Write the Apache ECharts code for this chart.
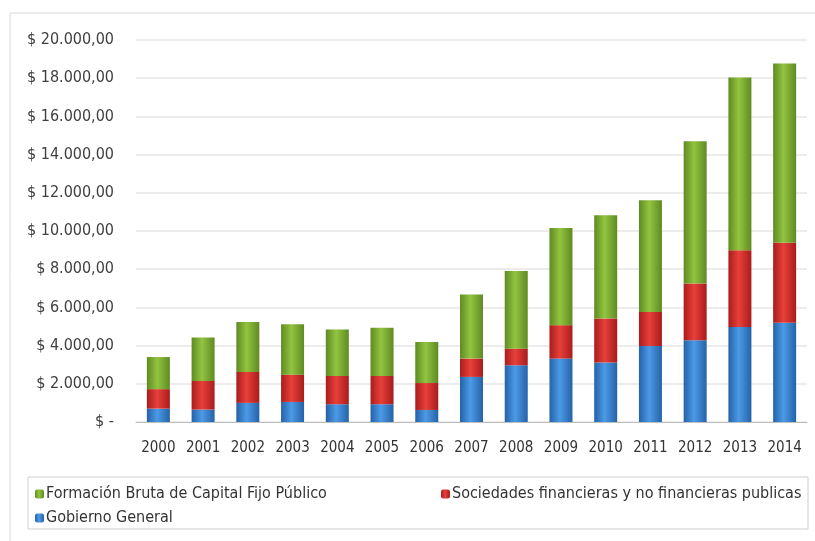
<!DOCTYPE html>
<html>
<head>
<meta charset="utf-8">
<script src="https://cdn.jsdelivr.net/npm/echarts@6/dist/echarts.min.js"></script>
<style>
	html, body { margin: 0; padding: 0; background: #fff; }
	#chart { width: 815px; height: 541px; }
</style>
</head>
<body>
<div id="chart"></div>
<script>
// años
var years = ['2000', '2001', '2002', '2003', '2004', '2005', '2006', '2007', '2008', '2009', '2010', '2011', '2012', '2013', '2014'];
// Gobierno General (base)
var gobierno = [700, 650, 1000, 1050, 930, 930, 630, 2360, 2970, 3320, 3110, 3980, 4280, 4980, 5190];
// Sociedades financieras y no financieras publicas (tramo medio)
var sociedades = [1020, 1500, 1620, 1430, 1480, 1480, 1410, 960, 870, 1750, 2310, 1780, 2970, 4010, 4190];
// Formación Bruta de Capital Fijo Público (tramo superior)
var formacion = [1680, 2270, 2620, 2640, 2430, 2530, 2150, 3350, 4070, 5090, 5410, 5850, 7450, 9050, 9390];
var yTicks = [0, 2000, 4000, 6000, 8000, 10000, 12000, 14000, 16000, 18000, 20000];

var FONT = '"DejaVu Sans Condensed", sans-serif';

function cyl(dark, light) {
	return new echarts.graphic.LinearGradient(0, 0, 1, 0, [
		{ offset: 0, color: dark },
		{ offset: 0.45, color: light },
		{ offset: 1, color: dark }
	]);
}

function fmtMoney(v) {
	if (v === 0) return '$ -';
	var s = String(v).replace(/\B(?=(\d{3})+(?!\d))/g, '.');
	return '$ ' + s + ',00';
}

var chart = echarts.init(document.getElementById('chart'));
var option = {
	animation: false,
	backgroundColor: '#fff',
	graphic: [{
		type: 'rect',
		shape: { x: 10, y: 13, width: 820, height: 540 },
		style: { fill: 'none', stroke: '#d9d9d9', lineWidth: 1 },
		silent: true
	}, {
		type: 'rect',
		shape: { x: 28, y: 477, width: 780, height: 52 },
		style: { fill: 'none', stroke: '#cfcfcf', lineWidth: 1 },
		silent: true
	}],
	legend: [{
		orient: 'vertical',
		left: 30,
		top: 481,
		itemWidth: 9,
		itemHeight: 9,
		itemGap: 8,
		textStyle: { fontFamily: FONT, fontSize: 16, color: '#333', padding: [0, 0, 0, -3] },
		data: ['Formación Bruta de Capital Fijo Público', 'Gobierno General']
	}, {
		orient: 'vertical',
		left: 436,
		top: 481,
		itemWidth: 9,
		itemHeight: 9,
		textStyle: { fontFamily: FONT, fontSize: 16, color: '#333', padding: [0, 0, 0, -3] },
		data: ['Sociedades financieras y no financieras publicas']
	}],
	grid: { left: 136, right: 8, top: 40, bottom: 119 },
	xAxis: {
		type: 'category',
		data: years,
		axisLine: { lineStyle: { color: '#bfbfbf' } },
		axisTick: { show: false },
		axisLabel: { interval: 0, fontFamily: FONT, fontSize: 15, color: '#333', margin: 19 }
	},
	yAxis: {
		type: 'value',
		min: 0,
		max: 20000,
		interval: 2000,
		axisLine: { show: false },
		axisTick: { show: false },
		splitLine: { lineStyle: { color: '#ececec', width: 2 } },
		axisLabel: {
			fontFamily: FONT, fontSize: 16, color: '#404040', margin: 22,
			formatter: function(v) { return yTicks.indexOf(v) >= 0 ? fmtMoney(v) : ''; }
		}
	},
	series: [{
		name: 'Gobierno General',
		type: 'bar',
		stack: 'total',
		barWidth: 23,
		itemStyle: { color: cyl('#2462a8', '#4c9ae6') },
		data: gobierno
	}, {
		name: 'Sociedades financieras y no financieras publicas',
		type: 'bar',
		stack: 'total',
		itemStyle: { color: cyl('#a81c1c', '#e8403a') },
		data: sociedades
	}, {
		name: 'Formación Bruta de Capital Fijo Público',
		type: 'bar',
		stack: 'total',
		itemStyle: { color: cyl('#5f8a22', '#92c440') },
		data: formacion
	}]
};
chart.setOption(option);
</script>
</body>
</html>
